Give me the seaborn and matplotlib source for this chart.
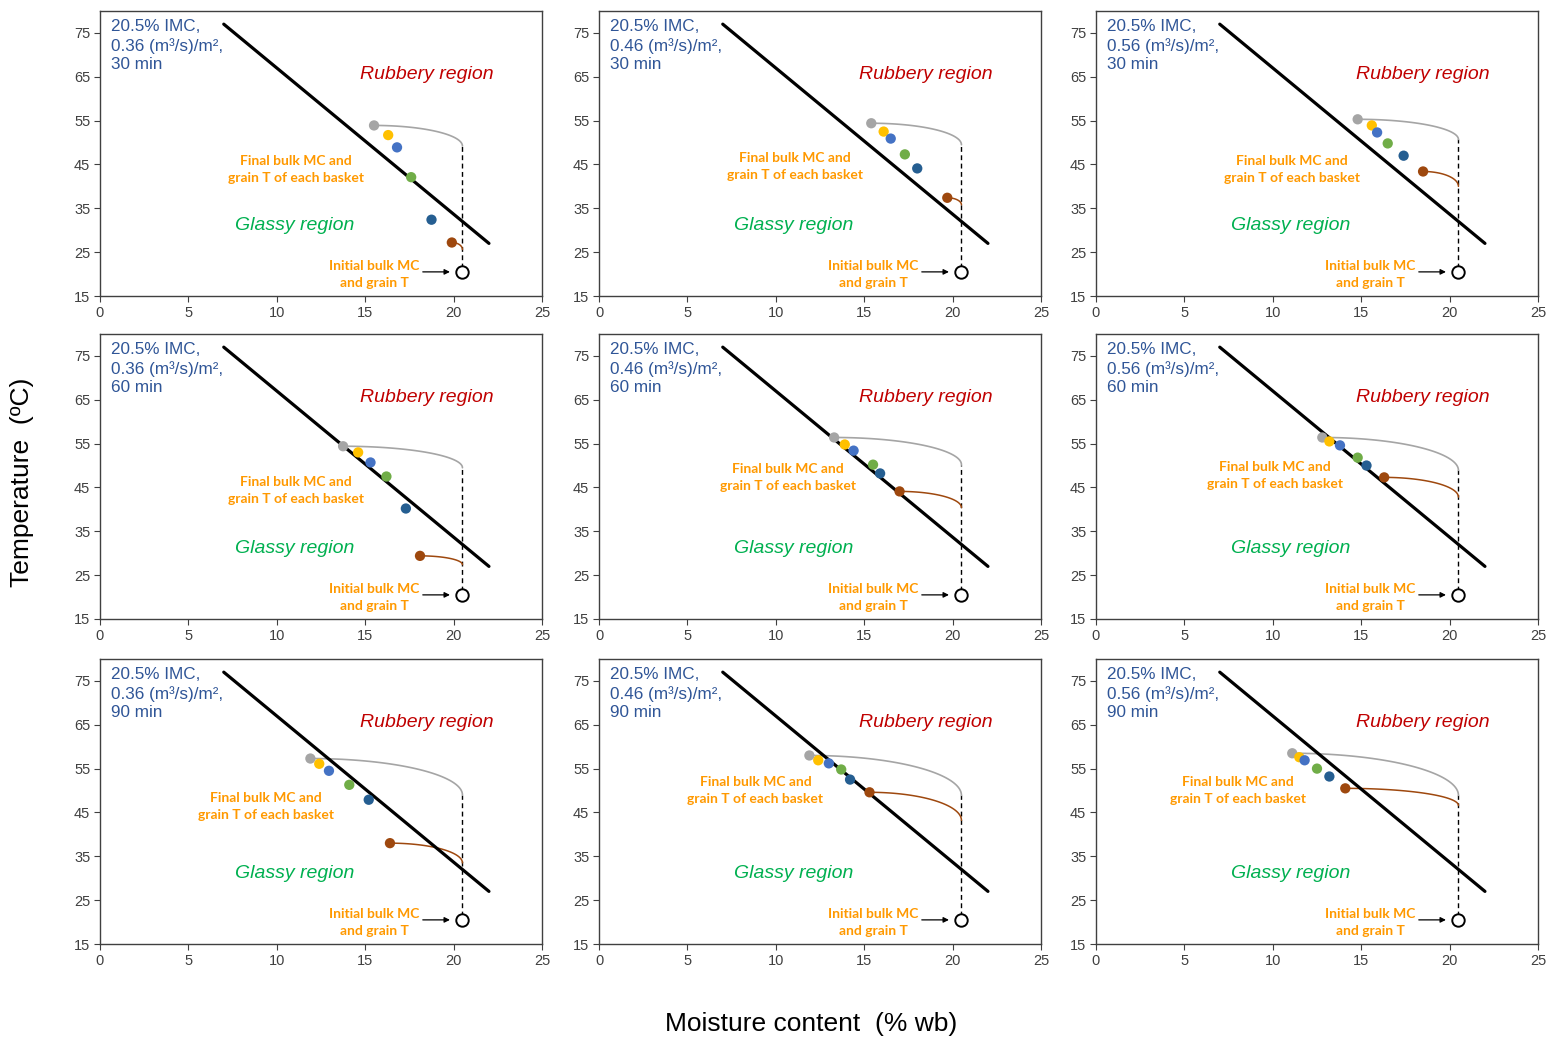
import numpy as np
import pandas as pd
import matplotlib
matplotlib.use("Agg")
import matplotlib.pyplot as plt
import seaborn as sns

# ---------------- data ----------------
airflows = ["0.36", "0.46", "0.56"]          # (m3/s)/m2, columns
durations = ["30", "60", "90"]               # min, rows
baskets = ["B1", "B2", "B3", "B4", "B5", "B6"]
basket_colors = ["#A5A5A5", "#FFC000", "#4472C4", "#70AD47", "#255E91", "#9E480E"]

# final bulk MC (% wb) of each basket
mc_30_036 = [15.5, 16.3, 16.8, 17.6, 18.75, 19.9]
mc_30_046 = [15.4, 16.1, 16.5, 17.3, 18.0, 19.7]
mc_30_056 = [14.8, 15.6, 15.9, 16.5, 17.4, 18.5]
mc_60_036 = [13.75, 14.6, 15.3, 16.2, 17.3, 18.1]
mc_60_046 = [13.3, 13.9, 14.4, 15.5, 15.9, 17.0]
mc_60_056 = [12.8, 13.2, 13.8, 14.8, 15.3, 16.3]
mc_90_036 = [11.9, 12.4, 12.95, 14.1, 15.2, 16.4]
mc_90_046 = [11.9, 12.4, 13.0, 13.7, 14.2, 15.3]
mc_90_056 = [11.1, 11.5, 11.8, 12.5, 13.2, 14.1]

# final grain temperature (degC) of each basket
t_30_036 = [53.9, 51.7, 48.9, 42.1, 32.4, 27.2]
t_30_046 = [54.4, 52.5, 50.9, 47.3, 44.1, 37.4]
t_30_056 = [55.3, 53.9, 52.3, 49.8, 47.0, 43.4]
t_60_036 = [54.4, 53.0, 50.7, 47.5, 40.2, 29.4]
t_60_046 = [56.4, 54.8, 53.4, 50.2, 48.2, 44.1]
t_60_056 = [56.4, 55.5, 54.6, 51.8, 50.0, 47.3]
t_90_036 = [57.3, 56.1, 54.5, 51.3, 47.9, 38.0]
t_90_046 = [58.0, 56.9, 56.2, 54.8, 52.5, 49.6]
t_90_056 = [58.5, 57.6, 56.9, 55.0, 53.2, 50.5]

# glass transition line
tg_mc = [7.0, 22.0]
tg_temp = [77.0, 27.0]

# initial bulk MC and grain T
init_mc = 20.5
init_temp = 20.5

# where the grey (first basket) and brown (last basket) paths meet the initial-MC line
gray_path_end = [49.2, 49.5, 50.7, 49.5, 50.2, 48.9, 49.0, 48.9, 48.9]
brown_path_end = [25.6, 35.8, 40.0, 27.4, 40.4, 42.8, 33.5, 43.2, 46.6]

mc_all = [mc_30_036, mc_30_046, mc_30_056, mc_60_036, mc_60_046, mc_60_056,
          mc_90_036, mc_90_046, mc_90_056]
t_all = [t_30_036, t_30_046, t_30_056, t_60_036, t_60_046, t_60_056,
         t_90_036, t_90_046, t_90_056]

# label anchor for "Final bulk MC..." text in each panel
final_lbl_x = [11.1, 11.1, 11.1, 11.1, 10.7, 10.1, 9.4, 8.85, 8.05]
final_lbl_y = [43.9, 44.5, 43.8, 44.3, 47.3, 47.7, 46.3, 50.0, 50.0]

# ---------------- style ----------------
sns.set_theme(style="white")
plt.rcParams["font.family"] = ["Liberation Sans", "DejaVu Sans"]

fig = plt.figure(figsize=(15.5, 10.41), dpi=100)

col_left = [100 / 1550, 599 / 1550, 1096 / 1550]
col_w = 442 / 1550
row_bottom = [1 - 296 / 1041, 1 - 619 / 1041, 1 - 944 / 1041]
row_h = 285 / 1041

tick_color = "#404040"
blue_txt = "#2F5597"
orange_txt = "#FF9900"


def quarter_path(x0, y0, x1, y1, n=60):
    t = np.linspace(0, np.pi / 2, n)
    xs = x0 + (x1 - x0) * np.sin(t)
    ys = y1 + (y0 - y1) * np.cos(t)
    return xs, ys


for r in range(3):
    for c in range(3):
        k = r * 3 + c
        ax = fig.add_axes([col_left[c], row_bottom[r], col_w, row_h])
        ax.set_facecolor("white")

        df = pd.DataFrame({"mc": mc_all[k], "temp": t_all[k], "basket": baskets})

        # Tg line
        sns.lineplot(x=tg_mc, y=tg_temp, ax=ax, color="black", lw=2.3, zorder=3)

        # dashed vertical from initial point up to grey path end
        ax.plot([init_mc, init_mc], [init_temp + 0.8, gray_path_end[k]],
                color="black", lw=1.0, ls=(0, (3.5, 2.5)), zorder=2)

        # grey path (first basket)
        gx, gy = quarter_path(df.mc[0], df.temp[0], init_mc, gray_path_end[k])
        ax.plot(gx, gy, color="#A5A5A5", lw=1.2, zorder=2)
        # brown path (last basket)
        bx, by = quarter_path(df.mc[5], df.temp[5], init_mc, brown_path_end[k])
        ax.plot(bx, by, color="#9E480E", lw=1.1, zorder=2)

        sns.scatterplot(data=df, x="mc", y="temp", hue="basket",
                        palette=basket_colors, s=55, edgecolor="none",
                        legend=False, ax=ax, zorder=4)

        # initial point
        ax.scatter([init_mc], [init_temp], s=80, facecolor="white",
                   edgecolor="black", linewidth=1.4, zorder=5)

        # texts
        ax.text(0.6, 78.2,
                f"20.5% IMC,\n{airflows[c]} (m³/s)/m²,\n{durations[r]} min",
                color=blue_txt, fontsize=12.3, va="top", ha="left",
                linespacing=1.3)
        ax.text(18.5, 65.5, "Rubbery region", color="#C00000", fontsize=14,
                style="italic", ha="center", va="center")
        ax.text(11.0, 31.0, "Glassy region", color="#00B050", fontsize=14,
                style="italic", ha="center", va="center")
        ax.text(final_lbl_x[k], final_lbl_y[k],
                "Final bulk MC and\ngrain T of each basket", color=orange_txt,
                fontsize=10, fontweight="bold", ha="center", va="center",
                family=["Lato", "DejaVu Sans"], linespacing=1.5)
        ax.text(15.5, 19.9, "Initial bulk MC\nand grain T", color=orange_txt,
                fontsize=10, fontweight="bold", ha="center", va="center",
                family=["Lato", "DejaVu Sans"], linespacing=1.5)
        ax.annotate("", xy=(init_mc - 0.55, init_temp), xytext=(18.1, init_temp),
                    arrowprops=dict(arrowstyle="-|>", color="black", lw=0.9,
                                    mutation_scale=8))

        ax.set_xlim(0, 25)
        ax.set_ylim(15, 80)
        ax.set_xticks(range(0, 26, 5))
        ax.set_yticks(range(15, 76, 10))
        ax.set_xlabel("")
        ax.set_ylabel("")
        ax.tick_params(axis="both", which="both", direction="out", length=4,
                       width=0.8, color=tick_color, labelsize=10.5,
                       labelcolor="#404040", pad=3, left=True, bottom=True)
        for sp in ax.spines.values():
            sp.set_visible(True)
            sp.set_color("#404040")
            sp.set_linewidth(1.0)

fig.text(22 / 1550, 1 - 482 / 1041, "Temperature  (ºC)", rotation=90,
         ha="center", va="center", fontsize=19, color="black")
fig.text(811 / 1550, 1 - 1024 / 1041, "Moisture content  (% wb)",
         ha="center", va="center", fontsize=19, color="black")

fig.savefig("out.png", dpi=100, facecolor="white")
